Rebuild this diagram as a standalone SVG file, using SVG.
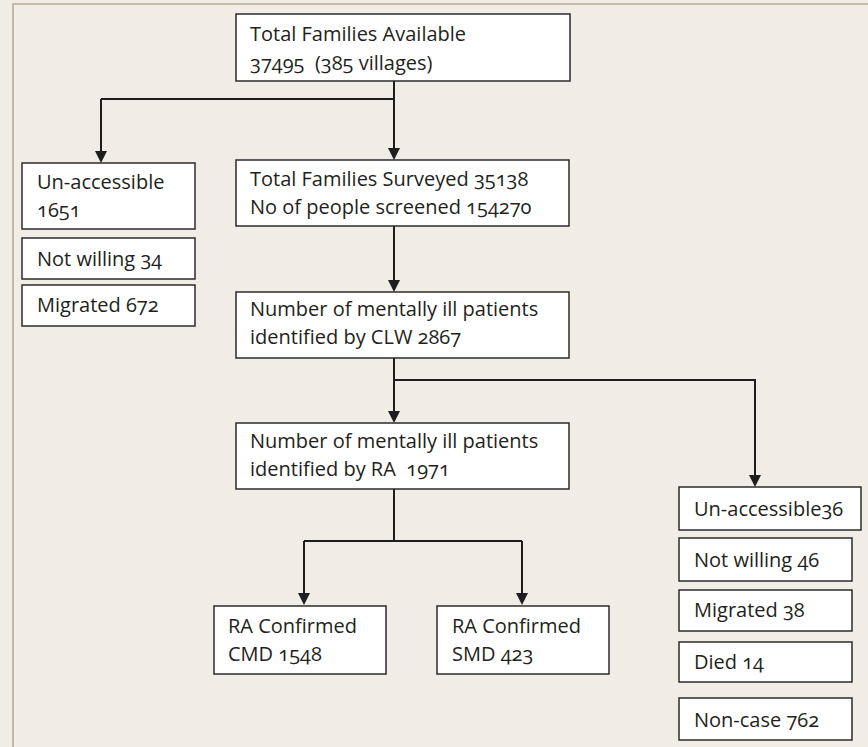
<svg xmlns="http://www.w3.org/2000/svg" width="868" height="747" viewBox="0 0 868 747">
<defs>
<style>
.bg{fill:#f0ede6}
.frame{fill:none;stroke:#c6baa6;stroke-width:2}
.box{fill:#ffffff;stroke:#2b2b2b;stroke-width:1.5}
.t{font-family:"Open Sans","Noto Sans","Liberation Sans",sans-serif;font-size:20px;fill:#231f20;font-variant-numeric:oldstyle-nums;font-feature-settings:"onum" 1;white-space:pre}
.c{fill:none;stroke:#1e1e1e;stroke-width:2}
.ah{fill:#1e1e1e}
</style>
</defs>
<rect class="bg" x="0" y="0" width="868" height="747"/>
<path class="frame" d="M13,747 L13,4 L868,4"/>

<g id="connectors">
<path class="c" d="M394,81 L394,99 M101,99 L394,99"/>
<path class="c" d="M101,99 L101,152"/>
<path class="ah" d="M95,151 L107,151 L101,163 Z"/>
<path class="c" d="M394,99 L394,149"/>
<path class="ah" d="M388,148 L400,148 L394,160 Z"/>
<path class="c" d="M394,226 L394,281"/>
<path class="ah" d="M388,280 L400,280 L394,292 Z"/>
<path class="c" d="M394,358 L394,412 M394,380 L755,380 L755,476"/>
<path class="ah" d="M388,411 L400,411 L394,423 Z"/>
<path class="ah" d="M749,475 L761,475 L755,487 Z"/>
<path class="c" d="M394,489 L394,541 M304,541 L522,541 M304,541 L304,594 M522,541 L522,594"/>
<path class="ah" d="M298,593 L310,593 L304,605 Z"/>
<path class="ah" d="M516,593 L528,593 L522,605 Z"/>
</g>

<g id="n-total">
<rect class="box" x="236" y="14" width="334" height="67"/>
<text class="t" x="250" y="41">Total Families Available</text>
<text class="t" x="250" y="70" xml:space="preserve">37495  (385 villages)</text>
</g>

<g id="n-unacc-left">
<rect class="box" x="22" y="163" width="173" height="66"/>
<text class="t" x="37" y="189">Un-accessible</text>
<text class="t" x="37" y="217">1651</text>
</g>
<g id="n-notwilling-left">
<rect class="box" x="22" y="238" width="173" height="41"/>
<text class="t" x="37" y="266">Not willing 34</text>
</g>
<g id="n-migrated-left">
<rect class="box" x="22" y="285" width="173" height="41"/>
<text class="t" x="37" y="312">Migrated 672</text>
</g>

<g id="n-surveyed">
<rect class="box" x="236" y="160" width="333" height="66"/>
<text class="t" x="250" y="186">Total Families Surveyed 35138</text>
<text class="t" x="250" y="214">No of people screened 154270</text>
</g>

<g id="n-clw">
<rect class="box" x="236" y="292" width="333" height="66"/>
<text class="t" x="250" y="316">Number of mentally ill patients</text>
<text class="t" x="250" y="344">identified by CLW 2867</text>
</g>

<g id="n-ra">
<rect class="box" x="236" y="423" width="333" height="66"/>
<text class="t" x="250" y="448">Number of mentally ill patients</text>
<text class="t" x="250" y="476" xml:space="preserve">identified by RA  1971</text>
</g>

<g id="n-cmd">
<rect class="box" x="214" y="606" width="172" height="68"/>
<text class="t" x="228" y="633">RA Confirmed</text>
<text class="t" x="228" y="661">CMD 1548</text>
</g>
<g id="n-smd">
<rect class="box" x="437" y="606" width="172" height="68"/>
<text class="t" x="452" y="633">RA Confirmed</text>
<text class="t" x="452" y="661">SMD 423</text>
</g>

<g id="n-unacc-right">
<rect class="box" x="679" y="487" width="182" height="43"/>
<text class="t" x="694" y="516">Un-accessible36</text>
</g>
<g id="n-notwilling-right">
<rect class="box" x="679" y="538" width="173" height="43"/>
<text class="t" x="694" y="567">Not willing 46</text>
</g>
<g id="n-migrated-right">
<rect class="box" x="679" y="590" width="173" height="41"/>
<text class="t" x="694" y="617">Migrated 38</text>
</g>
<g id="n-died">
<rect class="box" x="679" y="642" width="173" height="40"/>
<text class="t" x="694" y="669">Died 14</text>
</g>
<g id="n-noncase">
<rect class="box" x="679" y="698" width="173" height="42"/>
<text class="t" x="694" y="727">Non-case 762</text>
</g>
</svg>
